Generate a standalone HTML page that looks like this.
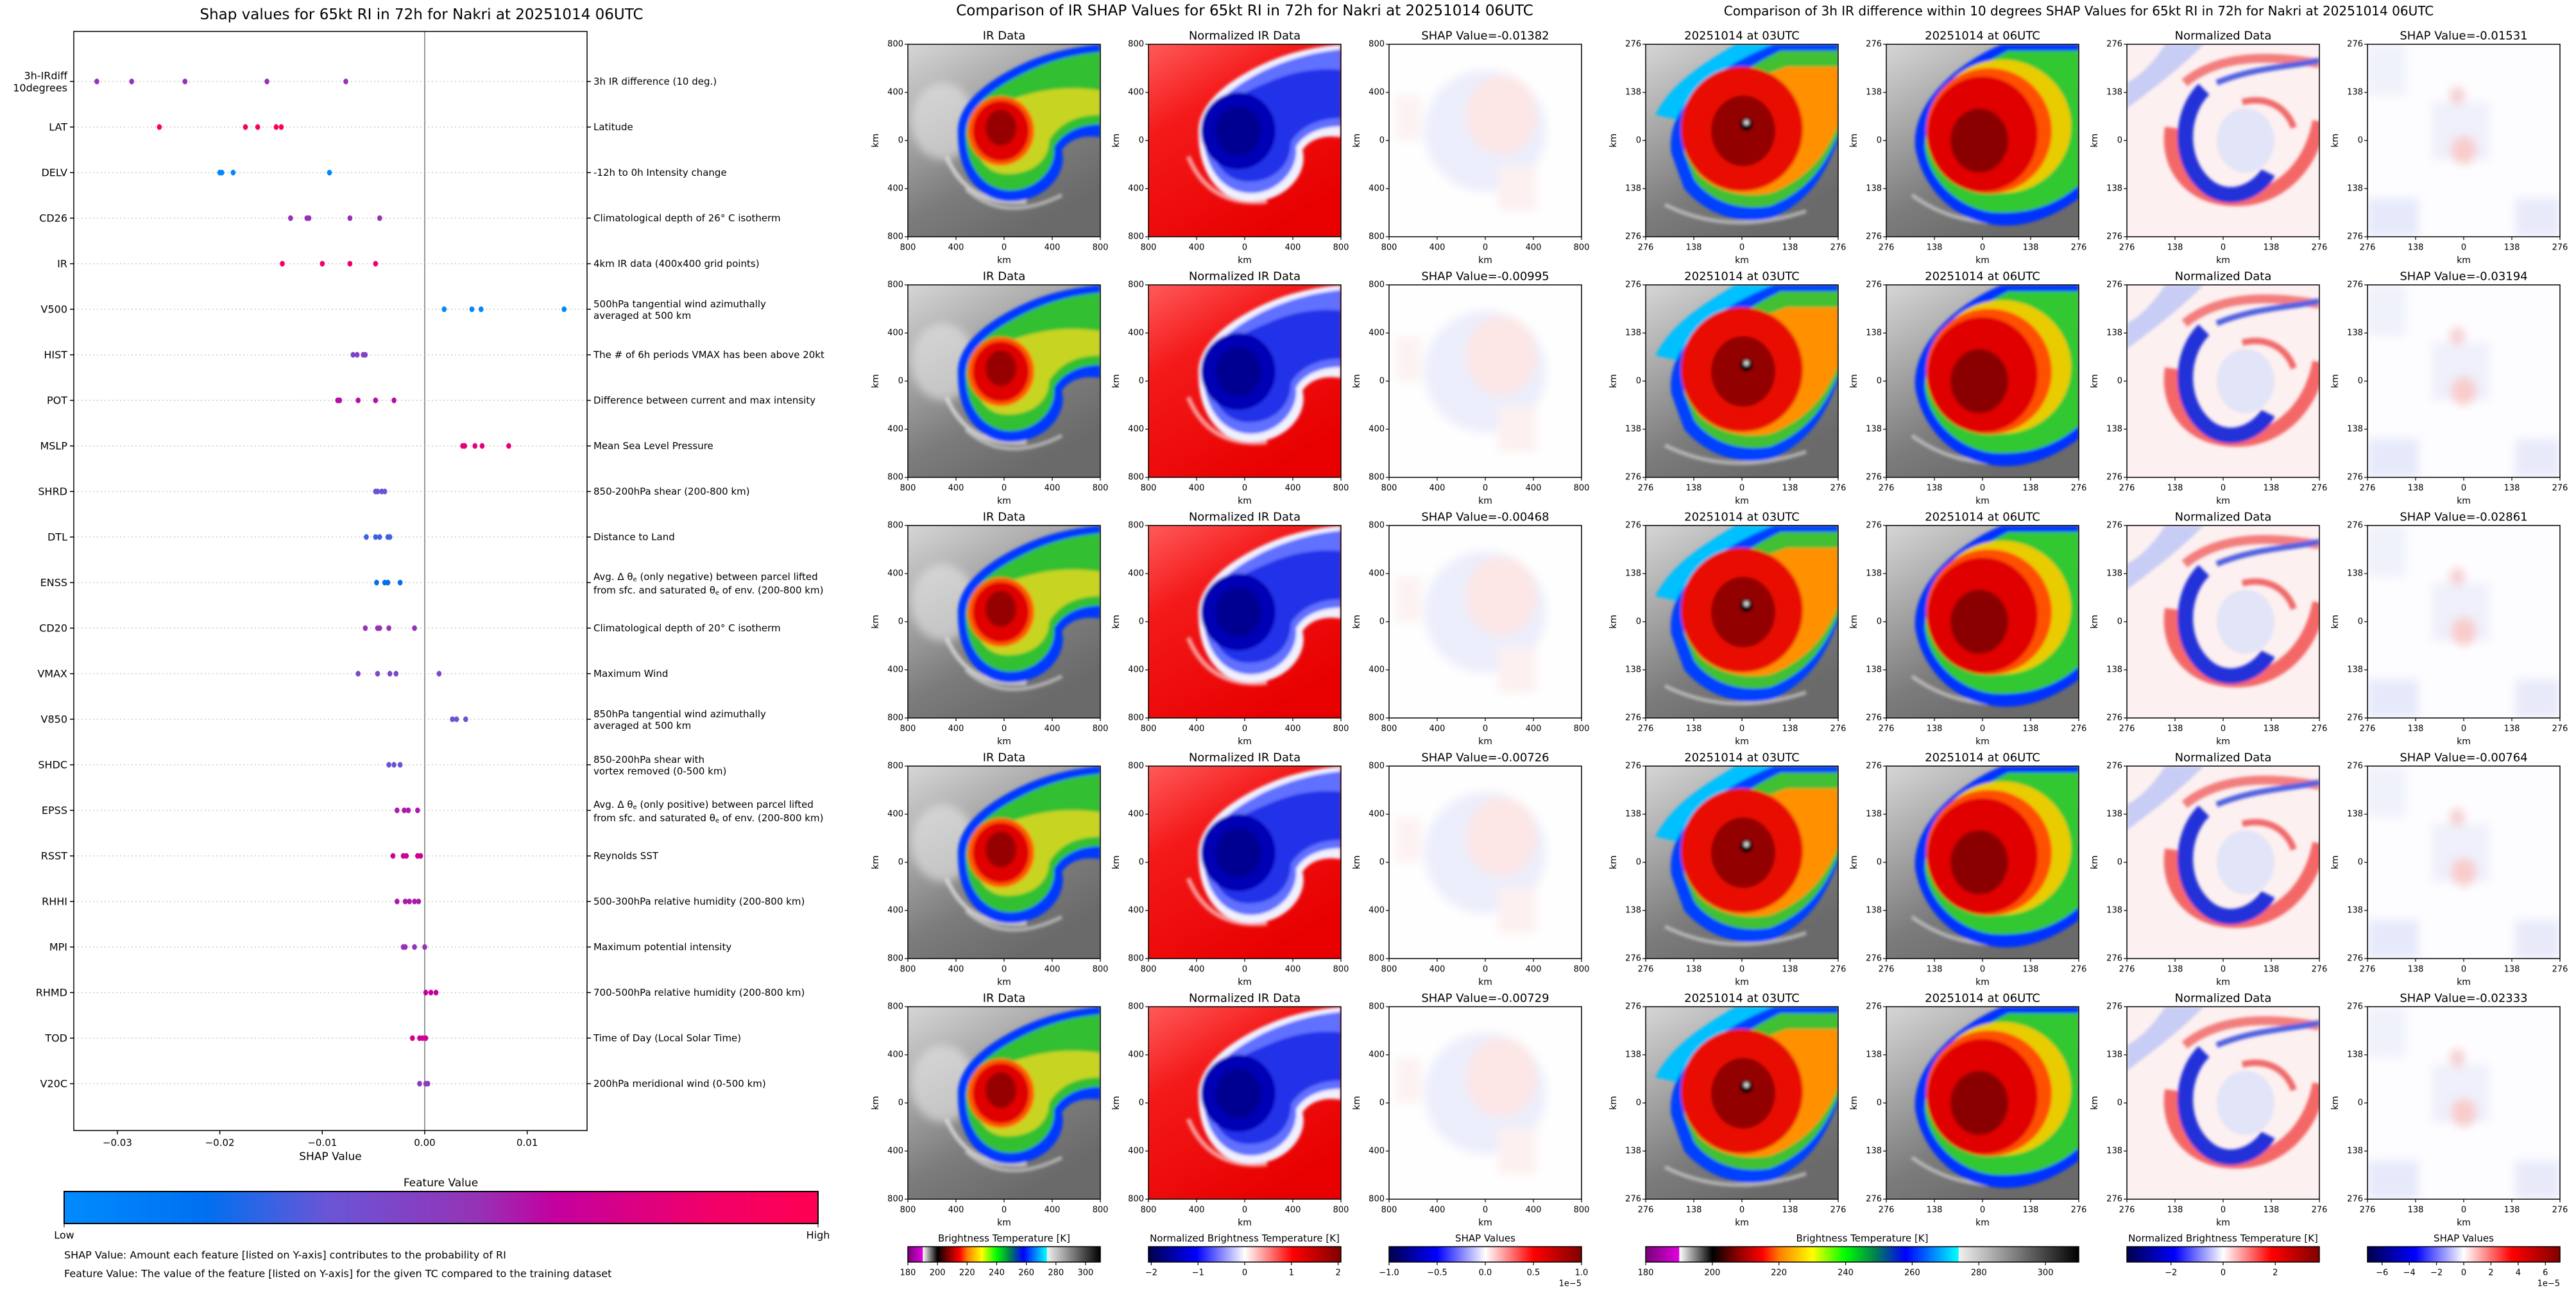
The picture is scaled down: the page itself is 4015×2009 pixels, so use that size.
<!DOCTYPE html>
<html><head><meta charset="utf-8">
<style>
html,body{margin:0;padding:0;background:#fff;}
svg{display:block;font-family:"DejaVu Sans","Liberation Sans",sans-serif;}
</style></head>
<body>
<svg id="fig" xmlns="http://www.w3.org/2000/svg" width="4015" height="2009" viewBox="0 0 4015 2009">
<defs>
 <filter id="b2" x="-10%" y="-10%" width="120%" height="120%"><feGaussianBlur stdDeviation="2.5"/></filter>
 <filter id="b6" x="-20%" y="-20%" width="140%" height="140%"><feGaussianBlur stdDeviation="7"/></filter>
 <linearGradient id="grayBg" x1="0" y1="0" x2="0.55" y2="1">
  <stop offset="0" stop-color="#d6d6d6"/><stop offset="0.35" stop-color="#a9a9a9"/><stop offset="0.7" stop-color="#7c7c7c"/><stop offset="1" stop-color="#6a6a6a"/></linearGradient>
 <linearGradient id="redBg" x1="0" y1="0" x2="0.6" y2="1">
  <stop offset="0" stop-color="#ff5a5a"/><stop offset="0.35" stop-color="#f41a1a"/><stop offset="1" stop-color="#e80000"/></linearGradient>
 <linearGradient id="featCmap" x1="0" x2="1" y1="0" y2="0">
  <stop offset="0" stop-color="#008bfe"/><stop offset="0.19" stop-color="#0070f0"/><stop offset="0.35" stop-color="#6a55d6"/><stop offset="0.55" stop-color="#9632b5"/><stop offset="0.65" stop-color="#c300a0"/><stop offset="0.85" stop-color="#f0006a"/><stop offset="1" stop-color="#ff0052"/></linearGradient>
 <linearGradient id="btCmap" x1="0" x2="1" y1="0" y2="0">
  <stop offset="0" stop-color="#7a007a"/><stop offset="0.077" stop-color="#e000e0"/><stop offset="0.078" stop-color="#ffffff"/><stop offset="0.154" stop-color="#000000"/><stop offset="0.2" stop-color="#700000"/><stop offset="0.27" stop-color="#ff0000"/><stop offset="0.31" stop-color="#ff8000"/><stop offset="0.385" stop-color="#ffff00"/><stop offset="0.46" stop-color="#00ff00"/><stop offset="0.53" stop-color="#008050"/><stop offset="0.6" stop-color="#0000ff"/><stop offset="0.722" stop-color="#00ffff"/><stop offset="0.723" stop-color="#f0f0f0"/><stop offset="1" stop-color="#000000"/></linearGradient>
 <linearGradient id="seis" x1="0" x2="1" y1="0" y2="0">
  <stop offset="0" stop-color="#00004c"/><stop offset="0.25" stop-color="#0000ff"/><stop offset="0.5" stop-color="#ffffff"/><stop offset="0.75" stop-color="#ff0000"/><stop offset="1" stop-color="#800000"/></linearGradient>

 <symbol id="irW" viewBox="0 0 300 300" preserveAspectRatio="none">
  <rect width="300" height="300" fill="url(#grayBg)"/>
  <g filter="url(#b6)"><ellipse cx="55" cy="120" rx="50" ry="60" fill="#e6e6e6" opacity="0.6"/></g>
  <g filter="url(#b2)">
   <path d="M60,175 Q95,255 185,245" stroke="#e6e6e6" stroke-width="7" fill="none" opacity="0.7"/>
   <path d="M90,225 Q150,280 240,235" stroke="#dcdcdc" stroke-width="6" fill="none" opacity="0.6"/>
   <path d="M78,140 C75,95 120,60 170,35 C210,15 250,5 300,0 L300,145 C270,140 250,150 240,165 C250,200 215,245 160,245 C110,245 78,200 78,140Z" fill="#0038ff"/>
   <path d="M90,140 C90,100 130,70 180,45 C220,25 260,15 300,12 L300,125 C265,125 240,140 228,160 C232,195 200,228 160,228 C118,228 90,190 90,140Z" fill="#30c030"/>
   <path d="M105,140 C105,110 138,92 180,80 C220,68 260,66 300,72 L300,110 C260,110 235,125 220,150 C220,180 195,202 155,202 C122,202 105,176 105,140Z" fill="#c8d420"/>
   <ellipse cx="145" cy="135" rx="52" ry="54" fill="#ff5a00"/>
   <ellipse cx="145" cy="135" rx="44" ry="47" fill="#e00000"/>
   <ellipse cx="145" cy="130" rx="24" ry="28" fill="#960000"/>
  </g>
 </symbol>
 <symbol id="normW" viewBox="0 0 300 300" preserveAspectRatio="none">
  <rect width="300" height="300" fill="url(#redBg)"/>
  <g filter="url(#b2)">
   <path d="M62,175 Q95,255 185,245" stroke="#ffd0d0" stroke-width="7" fill="none" opacity="0.7"/>
   <path d="M78,140 C75,95 120,60 170,35 C210,15 250,5 300,0 L300,145 C270,140 250,150 240,165 C250,200 215,245 160,245 C110,245 78,200 78,140Z" fill="#f0f0ff"/>
   <path d="M86,140 C86,100 128,68 178,42 C220,22 260,12 300,8 L300,128 C265,128 240,142 230,160 C234,197 200,232 160,232 C115,232 86,190 86,140Z" fill="#6070ff"/>
   <path d="M96,140 C96,105 135,80 185,60 C225,42 265,36 300,40 L300,115 C262,115 236,130 222,152 C222,188 196,214 156,214 C120,214 96,182 96,140Z" fill="#2030e8"/>
   <ellipse cx="140" cy="135" rx="58" ry="60" fill="#0000b4"/>
   <ellipse cx="140" cy="135" rx="35" ry="38" fill="#000090"/>
  </g>
 </symbol>
 <symbol id="shapW" viewBox="0 0 300 300" preserveAspectRatio="none">
  <rect width="300" height="300" fill="#fefefe"/>
  <g filter="url(#b6)">
   <ellipse cx="150" cy="135" rx="95" ry="95" fill="#eceefc"/>
   <ellipse cx="175" cy="110" rx="55" ry="62" fill="#fce6e6"/>
   <rect x="170" y="190" width="60" height="70" fill="#fdf0f0"/>
   <rect x="10" y="80" width="40" height="70" fill="#fdf2f2"/>
  </g>
 </symbol>
 <symbol id="ir03" viewBox="0 0 300 300" preserveAspectRatio="none">
  <rect width="300" height="300" fill="url(#grayBg)"/>
  <g filter="url(#b2)">
   <path d="M30,250 Q130,300 250,260" stroke="#e0e0e0" stroke-width="6" fill="none" opacity="0.6"/>
   <path d="M15,110 C40,60 90,30 140,0 L200,0 C150,40 90,80 60,120 Z" fill="#00c0ff"/>
   <path d="M40,170 C30,100 100,40 200,0 L300,0 L300,150 C280,200 260,240 200,270 C140,285 90,260 60,225 Z" fill="#0040ff"/>
   <path d="M60,170 C55,110 110,60 210,10 L300,10 L300,140 C280,190 250,230 195,252 C140,262 95,240 75,210 Z" fill="#40c030"/>
   <path d="M70,165 C70,110 120,70 220,35 L300,35 L300,125 C280,175 250,210 195,232 C140,242 100,222 80,200Z" fill="#ff9000"/>
   <ellipse cx="150" cy="132" rx="95" ry="97" fill="#e81000"/>
   <ellipse cx="152" cy="135" rx="50" ry="55" fill="#920000"/>
   <circle cx="157" cy="125" r="10" fill="#000"/>
   <circle cx="157" cy="122" r="4" fill="#ddd"/>
  </g>
 </symbol>
 <symbol id="ir06" viewBox="0 0 300 300" preserveAspectRatio="none">
  <rect width="300" height="300" fill="url(#grayBg)"/>
  <g filter="url(#b2)">
   <path d="M40,235 Q130,300 250,265" stroke="#e0e0e0" stroke-width="6" fill="none" opacity="0.6"/>
   <path d="M45,160 C40,90 110,30 180,0 L300,0 L300,240 C260,270 210,290 160,280 C100,270 55,220 45,160Z" fill="#0030ff"/>
   <path d="M60,160 C60,100 120,45 190,10 L300,10 L300,220 C260,255 215,265 165,262 C110,255 65,210 60,160Z" fill="#30c830"/>
   <ellipse cx="180" cy="128" rx="108" ry="104" fill="#e8cc00"/>
   <ellipse cx="160" cy="135" rx="98" ry="98" fill="#ff5000"/>
   <ellipse cx="150" cy="140" rx="86" ry="90" fill="#e00000"/>
   <ellipse cx="145" cy="150" rx="45" ry="50" fill="#8a0000"/>
  </g>
 </symbol>
 <symbol id="normR" viewBox="0 0 300 300" preserveAspectRatio="none">
  <rect width="300" height="300" fill="#fdf0f0"/>
  <g filter="url(#b2)">
   <path d="M0,100 C40,70 80,40 120,0 L60,0 C40,30 20,50 0,60Z" fill="#c8cdf5"/>
   <ellipse cx="185" cy="150" rx="45" ry="50" fill="#e2e4f8"/>
   <path d="M70,130 C60,200 110,250 190,240 C250,230 290,180 300,120" stroke="#f03a3a" stroke-width="22" fill="none" opacity="0.75"/>
   <path d="M90,60 C150,10 240,20 300,30" stroke="#f06060" stroke-width="14" fill="none" opacity="0.8"/>
   <path d="M140,60 C200,35 260,35 300,25" stroke="#5060e0" stroke-width="9" fill="none"/>
   <path d="M120,70 C80,110 80,190 130,225 C170,250 210,220 220,200" stroke="#2030d8" stroke-width="24" fill="none"/>
   <path d="M180,90 C220,80 250,100 260,130" stroke="#f06a6a" stroke-width="10" fill="none"/>
  </g>
 </symbol>
 <symbol id="shapR" viewBox="0 0 300 300" preserveAspectRatio="none">
  <rect width="300" height="300" fill="#fdfdff"/>
  <g filter="url(#b6)">
   <rect x="0" y="240" width="80" height="60" fill="#e6e9fa"/>
   <rect x="230" y="240" width="70" height="60" fill="#e8eafa"/>
   <rect x="100" y="90" width="90" height="90" fill="#eff0fb"/>
   <ellipse cx="150" cy="165" rx="20" ry="22" fill="#f8cccc"/>
   <ellipse cx="140" cy="80" rx="12" ry="14" fill="#f6d0d0"/>
   <rect x="0" y="0" width="60" height="80" fill="#f0f2fb"/>
  </g>
 </symbol>
</defs>
</svg>
<script>
// ---------- Left chart data ----------
const features=["3h-IRdiff|10degrees","LAT","DELV","CD26","IR","V500","HIST","POT","MSLP","SHRD","DTL","ENSS","CD20","VMAX","V850","SHDC","EPSS","RSST","RHHI","MPI","RHMD","TOD","V20C"];
const descriptions=["3h IR difference (10 deg.)","Latitude","-12h to 0h Intensity change","Climatological depth of 26° C isotherm","4km IR data (400x400 grid points)","500hPa tangential wind azimuthally|averaged at 500 km","The # of 6h periods VMAX has been above 20kt","Difference between current and max intensity","Mean Sea Level Pressure","850-200hPa shear (200-800 km)","Distance to Land","ENSS","Climatological depth of 20° C isotherm","Maximum Wind","850hPa tangential wind azimuthally|averaged at 500 km","850-200hPa shear with|vortex removed (0-500 km)","EPSS","Reynolds SST","500-300hPa relative humidity (200-800 km)","Maximum potential intensity","700-500hPa relative humidity (200-800 km)","Time of Day (Local Solar Time)","200hPa meridional wind (0-500 km)"];
const shapValues=[
 [-0.0320,-0.0286,-0.0234,-0.0154,-0.0077],
 [-0.0259,-0.0175,-0.0163,-0.0145,-0.0140],
 [-0.0200,-0.0198,-0.0187,-0.0093],
 [-0.0131,-0.0115,-0.0113,-0.0073,-0.0044],
 [-0.0139,-0.0100,-0.0073,-0.0048],
 [0.0019,0.0046,0.0055,0.0136],
 [-0.0070,-0.0066,-0.0060,-0.0058],
 [-0.0085,-0.0083,-0.0065,-0.0048,-0.0030],
 [0.0037,0.0039,0.0049,0.0056,0.0082],
 [-0.0048,-0.0046,-0.0042,-0.0039],
 [-0.0057,-0.0048,-0.0044,-0.0036,-0.0034],
 [-0.0047,-0.0039,-0.0036,-0.0024],
 [-0.0058,-0.0046,-0.0044,-0.0035,-0.0010],
 [-0.0065,-0.0046,-0.0034,-0.0028,0.0014],
 [0.0027,0.0031,0.0040],
 [-0.0035,-0.0030,-0.0024],
 [-0.0027,-0.0020,-0.0016,-0.0007],
 [-0.0031,-0.0021,-0.0018,-0.0007,-0.0004],
 [-0.0027,-0.0019,-0.0015,-0.0010,-0.0006],
 [-0.0021,-0.0019,-0.0010,0.0000],
 [0.0001,0.0006,0.0011],
 [-0.0012,-0.0005,-0.0002,0.0001],
 [-0.0005,0.0001,0.0003]];
const featureValues=[0.55,0.97,0.02,0.55,0.88,0.02,0.45,0.62,0.8,0.36,0.28,0.2,0.55,0.42,0.36,0.36,0.6,0.7,0.6,0.55,0.66,0.7,0.5];
const xTickValues=[-0.03,-0.02,-0.01,0.00,0.01];
const xTickLabels=["\u22120.03","\u22120.02","\u22120.01","0.00","0.01"];
// mid/right panel data
const midShap=["-0.01382","-0.00995","-0.00468","-0.00726","-0.00729"];
const rightShap=["-0.01531","-0.03194","-0.02861","-0.00764","-0.02333"];
const midTickLabels=["800","400","0","400","800"];
const rightTickLabels=["276","138","0","138","276"];
const btTicks=[180,200,220,240,260,280,300];
const midNormTicks=[-2,-1,0,1,2];
const midShapTicks=[-1.0,-0.5,0.0,0.5,1.0];
const rightNormTicks=[-2,0,2];
const rightShapTicks=[-6,-4,-2,0,2,4,6];

const NS="http://www.w3.org/2000/svg";
const fig=document.getElementById('fig');
function mk(tag,attrs,parent){const e=document.createElementNS(NS,tag);for(const k in attrs)e.setAttribute(k,attrs[k]);(parent||fig).appendChild(e);return e;}
function txt(x,y,s,size,anchor,parent,extra){const t=mk('text',Object.assign({x:x,y:y,'font-size':size,'text-anchor':anchor||'middle','dominant-baseline':'central',fill:'#000'},extra||{}),parent);t.textContent=s;return t;}

// scales
const X0=662,XS=15970;
function xScale(v){return X0+v*XS;}
function yScale(i){return 127+i*71;}
function featColor(f){
 const st=[[0,[0,139,254]],[0.19,[0,112,240]],[0.35,[106,85,214]],[0.55,[150,50,181]],[0.65,[195,0,160]],[0.85,[240,0,106]],[1,[255,0,82]]];
 for(let i=1;i<st.length;i++){if(f<=st[i][0]){const a=st[i-1],b=st[i],t=(f-a[0])/(b[0]-a[0]);const c=a[1].map((v,j)=>Math.round(v+(b[1][j]-v)*t));return 'rgb('+c.join(',')+')';}}
 return 'rgb(255,0,82)';
}

// ---------- Left chart ----------
const L=mk('g',{});


const lt=txt(657,23,'Shap values for 65kt RI in 72h for Nakri at 20251014 06UTC',23,'middle',L);


features.forEach((f,i)=>{
 const y=yScale(i);
 const gl=mk('line',{x1:115,x2:915,y1:y,y2:y,stroke:'#cccccc','stroke-width':1.5,'stroke-dasharray':'2,4'},L);
 
 
 mk('line',{x1:109,x2:115,y1:y,y2:y,stroke:'#000','stroke-width':1.5},L);
 mk('line',{x1:915,x2:921,y1:y,y2:y,stroke:'#000','stroke-width':1.5},L);
 const parts=f.split('|');
 parts.forEach((p,k)=>{
  const t=txt(105,parts.length>1?y-9+k*19:y,p,16,'end',L);
  
  
 });
 const d=descriptions[i];
 if(d==='ENSS'||d==='EPSS'){
  const word=d==='ENSS'?'negative':'positive';
  const t1=mk('text',{x:925,y:y-9,'font-size':15,'dominant-baseline':'central'},L);
  t1.innerHTML='Avg. \u0394 \u03b8<tspan font-size="10" dy="4">e</tspan><tspan dy="-4"> (only '+word+') between parcel lifted</tspan>';
  
  
  const t2=mk('text',{x:925,y:y+12,'font-size':15,'dominant-baseline':'central'},L);
  t2.innerHTML='from sfc. and saturated \u03b8<tspan font-size="10" dy="4">e</tspan><tspan dy="-4"> of env. (200-800 km)</tspan>';
  
  
 } else {
  const dp=d.split('|');
  dp.forEach((p,k)=>{
   const t=txt(925,dp.length>1?y-8+k*18:y,p,15,'start',L);
   
   
  });
 }
});
const zl=mk('line',{x1:X0,x2:X0,y1:49,y2:1762,stroke:'#999','stroke-width':2},L);


shapValues.forEach((row,i)=>{
 row.forEach(v=>{
  const c=mk('ellipse',{cx:xScale(v),cy:yScale(i),rx:3.8,ry:4.5,fill:featColor(featureValues[i])},L);
  
  
 });
});
const frame=mk('rect',{x:115,y:49,width:800,height:1713,fill:'none',stroke:'#000','stroke-width':1.5},L);


xTickValues.forEach((v,k)=>{
 mk('line',{x1:xScale(v),x2:xScale(v),y1:1762,y2:1768,stroke:'#000','stroke-width':1.5},L);
 const t=txt(xScale(v),1781,xTickLabels[k],15,'middle',L);
 
 
});
const xat=txt(515,1803,'SHAP Value',17,'middle',L);


const fvt=txt(687,1844,'Feature Value',17,'middle',L);


const fcb=mk('rect',{x:100,y:1857,width:1175,height:50,fill:'url(#featCmap)',stroke:'#000','stroke-width':2},L);


mk('line',{x1:100,x2:100,y1:1907,y2:1913,stroke:'#000'},L);
mk('line',{x1:1275,x2:1275,y1:1907,y2:1913,stroke:'#000'},L);
const lo=txt(100,1925,'Low',16,'middle',L);


const hi=txt(1275,1925,'High',16,'middle',L);


const n1=txt(100,1956,'SHAP Value: Amount each feature [listed on Y-axis] contributes to the probability of RI',16,'start',L);


const n2=txt(100,1985,'Feature Value: The value of the feature [listed on Y-axis] for the given TC compared to the training dataset',16,'start',L);



// ---------- Image panels ----------
const rowsY=[69,444,819,1194,1569];
function panel(x,y,sym,title,labels,name){
 const g=mk('g',{});
 
 
 const u=mk('use',{href:'#'+sym,x:x,y:y,width:300,height:300},g);
 
 
 const r=mk('rect',{x:x,y:y,width:300,height:300,fill:'none',stroke:'#000','stroke-width':1.5},g);
 
 
 const t=txt(x+150,y-13,title,18,'middle',g);
 
 
 labels.forEach((s,k)=>{
  const p=k*75;
  mk('line',{x1:x-5,x2:x,y1:y+p,y2:y+p,stroke:'#000','stroke-width':1.2},g);
  mk('line',{x1:x+p,x2:x+p,y1:y+300,y2:y+305,stroke:'#000','stroke-width':1.2},g);
  const a=txt(x-7,y+p,s,13,'end',g);
  
  
  const b=txt(x+p,y+317,s,13,'middle',g);
  
  
 });
 const ky=txt(x-50,y+150,'km',14,'middle',g,{transform:'rotate(-90 '+(x-50)+' '+(y+150)+')'});
 
 
 const kx=txt(x+150,y+337,'km',14,'middle',g);
 
 
}
const mt=txt(1940,17,'Comparison of IR SHAP Values for 65kt RI in 72h for Nakri at 20251014 06UTC',23,'middle');


const rt=txt(3240,17,'Comparison of 3h IR difference within 10 degrees SHAP Values for 65kt RI in 72h for Nakri at 20251014 06UTC',20,'middle');


rowsY.forEach((y,i)=>{
 panel(1415,y,'irW','IR Data',midTickLabels,'ir-data-panel');
 panel(1790,y,'normW','Normalized IR Data',midTickLabels,'normalized-ir-panel');
 panel(2165,y,'shapW','SHAP Value='+midShap[i],midTickLabels,'ir-shap-panel');
 panel(2565,y,'ir03','20251014 at 03UTC',rightTickLabels,'ir-03utc-panel');
 panel(2940,y,'ir06','20251014 at 06UTC',rightTickLabels,'ir-06utc-panel');
 panel(3315,y,'normR','Normalized Data',rightTickLabels,'normalized-diff-panel');
 panel(3690,y,'shapR','SHAP Value='+rightShap[i],rightTickLabels,'diff-shap-panel');
});

// ---------- Colorbars ----------
function colorbar(x,w,grad,title,ticks,lo,hi,fmt,name,exp){
 const g=mk('g',{});
 
 
 const t=txt(x+w/2,1930,title,15,'middle',g);
 
 
 const r=mk('rect',{x:x,y:1943,width:w,height:24,fill:'url(#'+grad+')',stroke:'#000','stroke-width':1.5},g);
 
 
 ticks.forEach(v=>{
  const px=x+(v-lo)/(hi-lo)*w;
  mk('line',{x1:px,x2:px,y1:1967,y2:1972,stroke:'#000','stroke-width':1.2},g);
  const l=txt(px,1984,fmt(v),13,'middle',g);
  
  
 });
 if(exp){const e=txt(x+w,2001,'1e\u22125',13,'end',g);
  
  }
}
const neg=v=>(v<0?'\u2212':'')+Math.abs(v);
const neg1=v=>(v<0?'\u2212':'')+Math.abs(v).toFixed(1);
colorbar(1415,300,'btCmap','Brightness Temperature [K]',btTicks,180,310,v=>String(v),'mid-bt-colorbar',false);
colorbar(1790,300,'seis','Normalized Brightness Temperature [K]',midNormTicks,-2.06,2.06,neg,'mid-norm-colorbar',false);
colorbar(2165,300,'seis','SHAP Values',midShapTicks,-1,1,neg1,'mid-shap-colorbar',true);
colorbar(2565,675,'btCmap','Brightness Temperature [K]',btTicks,180,310,v=>String(v),'right-bt-colorbar',false);
colorbar(3315,300,'seis','Normalized Brightness Temperature [K]',rightNormTicks,-3.69,3.69,neg,'right-norm-colorbar',false);
colorbar(3690,300,'seis','SHAP Values',rightShapTicks,-7.07,7.07,neg,'right-shap-colorbar',true);
</script>
</body></html>
